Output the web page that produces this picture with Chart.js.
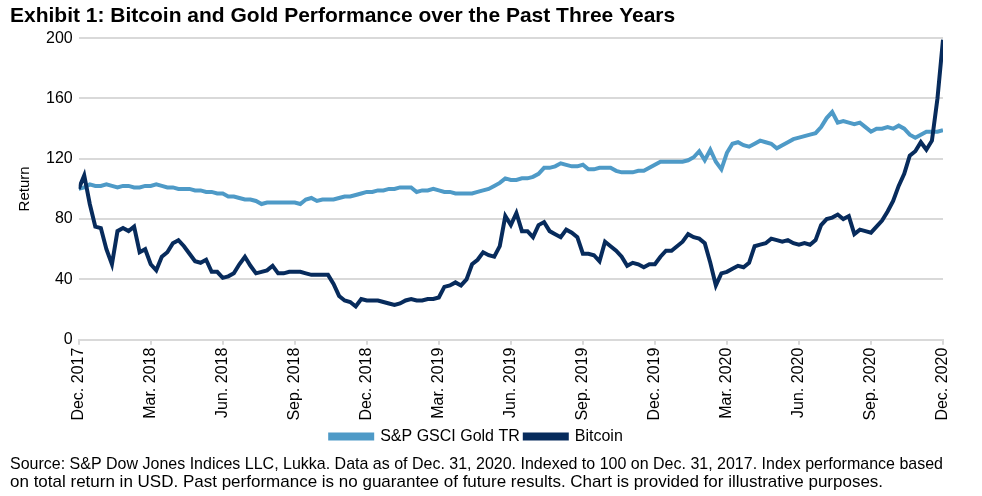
<!DOCTYPE html>
<html lang="en">
<head>
    <meta charset="UTF-8">
    <title>Bitcoin and Gold Performance</title>
    <script src="https://cdn.jsdelivr.net/npm/chart.js@4.4.1/dist/chart.umd.min.js"></script>
    <style>
        html, body { margin: 0; padding: 0; background: #fff; }
        #wrap { width: 982px; height: 496px; }
    </style>
</head>
<body>

<div id="wrap"><canvas id="perf-chart"></canvas></div>

<script>

    // quarter ticks, one every 13 weeks
    const quarterLabels = ['Dec. 2017', 'Mar. 2018', 'Jun. 2018', 'Sep. 2018', 'Dec. 2018', 'Mar. 2019',
        'Jun. 2019', 'Sep. 2019', 'Dec. 2019', 'Mar. 2020', 'Jun. 2020', 'Sep. 2020', 'Dec. 2020'];
    const weeksPerQuarter = 13;

    const yTicks = [0, 40, 80, 120, 160, 200];

    // weekly index values, 100 = Dec. 31, 2017
    const gold = [
        100, 101, 103, 102, 102, 103, 102, 101, 102, 102, 101, 101, 102,
        102, 103, 102, 101, 101, 100, 100, 100, 99, 99, 98, 98, 97,
        97, 95, 95, 94, 93, 93, 92, 90, 91, 91, 91, 91, 91,
        91, 90, 93, 94, 92, 93, 93, 93, 94, 95, 95, 96, 97,
        98, 98, 99, 99, 100, 100, 101, 101, 101, 98, 99, 99, 100,
        99, 98, 98, 97, 97, 97, 97, 98, 99, 100, 102, 104, 107,
        106, 106, 107, 107, 108, 110, 114, 114, 115, 117, 116, 115, 115,
        116, 113, 113, 114, 114, 114, 112, 111, 111, 111, 112, 112, 114,
        116, 118, 118, 118, 118, 118, 119, 121, 125, 119, 126, 118, 113,
        124, 130, 131, 129, 128, 130, 132, 131, 130, 127, 129, 131, 133,
        134, 135, 136, 137, 141, 147, 151, 144, 145, 144, 143, 144, 141,
        138, 140, 140, 141, 140, 142, 140, 136, 134, 136, 138, 138, 138,
        139
    ];

    const bitcoin = [
        100, 109, 90, 75, 74, 60, 50, 72, 74, 72, 75, 58, 60,
        50, 46, 55, 58, 64, 66, 62, 57, 52, 51, 53, 45, 45,
        41, 42, 44, 50, 55, 49, 44, 45, 46, 49, 44, 44, 45,
        45, 45, 44, 43, 43, 43, 43, 37, 29, 26, 25, 22, 27,
        26, 26, 26, 25, 24, 23, 24, 26, 27, 26, 26, 27, 27,
        28, 35, 36, 38, 36, 40, 50, 53, 58, 56, 55, 62, 82,
        76, 84, 72, 72, 68, 76, 78, 72, 70, 68, 73, 71, 68,
        57, 57, 56, 52, 65, 62, 59, 55, 49, 51, 50, 48, 50,
        50, 55, 59, 59, 62, 65, 70, 68, 67, 64, 51, 36, 44,
        45, 47, 49, 48, 51, 62, 63, 64, 67, 66, 65, 66, 64,
        63, 64, 63, 66, 76, 80, 81, 83, 80, 82, 70, 73, 72,
        71, 75, 79, 85, 92, 102, 110, 122, 125, 131, 126, 132, 160,
        199
    ];

    const toPoints = arr => arr.map((v, i) => ({x: i, y: v}));

    const family = "'Liberation Sans', Arial, sans-serif";
    const tickFont = {family: family, size: 16};

    new Chart('perf-chart', {
        type: 'line',
        data: {
            datasets: [
                {
                    label: 'S&P GSCI Gold TR',
                    data: toPoints(gold),
                    borderColor: '#4e9ac7',
                    backgroundColor: '#4e9ac7',
                    borderWidth: 4,
                    pointRadius: 0,
                    order: 2
                },
                {
                    label: 'Bitcoin',
                    data: toPoints(bitcoin),
                    borderColor: '#072b5c',
                    backgroundColor: '#072b5c',
                    borderWidth: 4,
                    pointRadius: 0,
                    order: 1
                }
            ]
        },
        options: {
            responsive: true,
            maintainAspectRatio: false,
            animation: false,
            layout: {padding: {left: 10, right: 39, top: 0, bottom: 0}},
            scales: {
                x: {
                    type: 'linear',
                    min: 0,
                    max: (quarterLabels.length - 1) * weeksPerQuarter,
                    ticks: {
                        stepSize: weeksPerQuarter,
                        autoSkip: false,
                        minRotation: 90,
                        maxRotation: 90,
                        color: '#000',
                        font: tickFont,
                        padding: 3,
                        callback: v => v % weeksPerQuarter === 0 ? quarterLabels[v / weeksPerQuarter] : ''
                    },
                    grid: {drawOnChartArea: false, drawTicks: true, tickLength: 5, color: '#d9d9d9', lineWidth: 2},
                    border: {display: true, color: '#d9d9d9', width: 2}
                },
                y: {
                    min: yTicks[0],
                    max: yTicks[yTicks.length - 1],
                    afterBuildTicks: axis => { axis.ticks = yTicks.map(v => ({value: v})); },
                    ticks: {color: '#000', font: tickFont, padding: 6},
                    grid: {color: '#d9d9d9', lineWidth: 2, drawTicks: false},
                    border: {display: false},
                    title: {display: true, text: 'Return', color: '#000', font: {family: family, size: 15}, padding: 6}
                }
            },
            plugins: {
                title: {
                    display: true,
                    text: 'Exhibit 1: Bitcoin and Gold Performance over the Past Three Years',
                    align: 'start',
                    color: '#000',
                    font: {family: family, size: 21, weight: 'bold', lineHeight: 1.2},
                    padding: {top: 4, bottom: 9}
                },
                subtitle: {
                    display: true,
                    position: 'bottom',
                    align: 'start',
                    text: ['Source: S&P Dow Jones Indices LLC, Lukka. Data as of Dec. 31, 2020. Indexed to 100 on Dec. 31, 2017. Index performance based',
                        'on total return in USD. Past performance is no guarantee of future results. Chart is provided for illustrative purposes.'],
                    color: '#000',
                    font: {family: family, size: 17, lineHeight: 1.1},
                    padding: {top: 0, bottom: 4}
                },
                legend: {
                    position: 'bottom',
                    labels: {
                        boxWidth: 42,
                        boxHeight: 4,
                        color: '#000',
                        font: tickFont,
                        padding: 5,
                        sort: (a, b) => a.datasetIndex - b.datasetIndex
                    }
                },
                tooltip: {enabled: false}
            }
        }
    });

</script>

</body>
</html>
